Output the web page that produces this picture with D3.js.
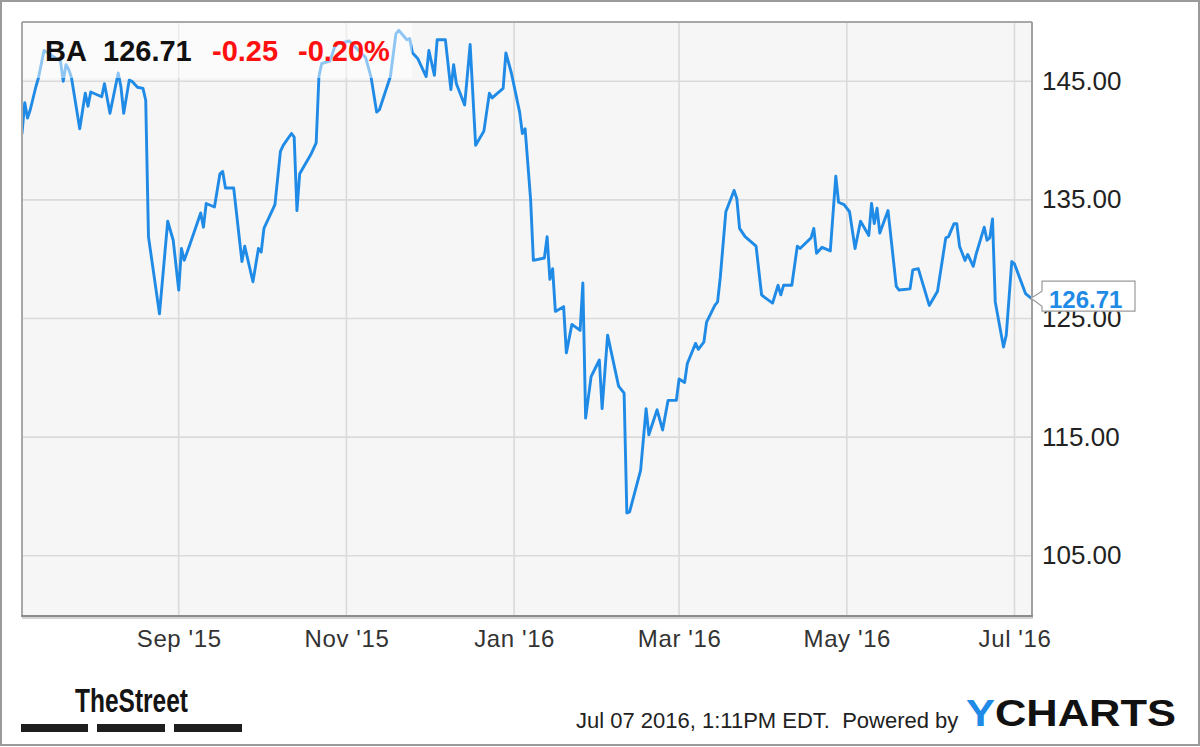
<!DOCTYPE html>
<html><head><meta charset="utf-8">
<script src="https://cdn.jsdelivr.net/npm/d3@7/dist/d3.min.js"></script>
<style>
body{margin:0;background:#fff;}
svg{display:block;font-family:"Liberation Sans",Arial,Helvetica,sans-serif;}
</style>
</head><body>
<svg id="chart" width="1200" height="747"></svg>
<script>
// ---- data ----
const dates = [
"2015-07-06","2015-07-07","2015-07-08","2015-07-09","2015-07-11","2015-07-12","2015-07-14","2015-07-20","2015-07-21","2015-07-22",
"2015-07-23","2015-07-24","2015-07-27","2015-07-29","2015-07-30","2015-07-31","2015-08-04","2015-08-05","2015-08-07","2015-08-10",
"2015-08-11","2015-08-12","2015-08-14","2015-08-15","2015-08-17","2015-08-19","2015-08-20","2015-08-21","2015-08-25","2015-08-28",
"2015-08-30","2015-09-01","2015-09-02","2015-09-03","2015-09-05","2015-09-09","2015-09-10","2015-09-11","2015-09-14","2015-09-16",
"2015-09-17","2015-09-18","2015-09-21","2015-09-24","2015-09-25","2015-09-28","2015-09-30","2015-10-01","2015-10-02","2015-10-06",
"2015-10-08","2015-10-09","2015-10-12","2015-10-13","2015-10-14","2015-10-15","2015-10-19","2015-10-21","2015-10-22","2015-10-23",
"2015-10-26","2015-10-28","2015-11-02","2015-11-08","2015-11-10","2015-11-12","2015-11-13","2015-11-17","2015-11-19","2015-11-20",
"2015-11-23","2015-11-24","2015-11-25","2015-11-27","2015-11-30","2015-12-01","2015-12-03","2015-12-04","2015-12-07","2015-12-09",
"2015-12-10","2015-12-11","2015-12-14","2015-12-16","2015-12-18","2015-12-21","2015-12-23","2015-12-24","2015-12-28","2015-12-29",
"2015-12-31","2016-01-03","2016-01-04","2016-01-05","2016-01-07","2016-01-08","2016-01-12","2016-01-13","2016-01-14","2016-01-15",
"2016-01-16","2016-01-19","2016-01-20","2016-01-22","2016-01-25","2016-01-26","2016-01-27","2016-01-29","2016-02-01","2016-02-02",
"2016-02-04","2016-02-08","2016-02-10","2016-02-11","2016-02-12","2016-02-16","2016-02-18","2016-02-19","2016-02-22","2016-02-24",
"2016-02-26","2016-02-29","2016-03-01","2016-03-03","2016-03-04","2016-03-07","2016-03-08","2016-03-10","2016-03-11","2016-03-14",
"2016-03-15","2016-03-16","2016-03-18","2016-03-21","2016-03-22","2016-03-23","2016-03-25","2016-03-29","2016-03-31","2016-04-01",
"2016-04-04","2016-04-06","2016-04-07","2016-04-08","2016-04-11","2016-04-13","2016-04-14","2016-04-18","2016-04-19","2016-04-20",
"2016-04-22","2016-04-25","2016-04-27","2016-04-28","2016-04-30","2016-05-02","2016-05-04","2016-05-06","2016-05-09","2016-05-10",
"2016-05-11","2016-05-12","2016-05-13","2016-05-16","2016-05-19","2016-05-20","2016-05-24","2016-05-25","2016-05-27","2016-05-31",
"2016-06-03","2016-06-06","2016-06-07","2016-06-09","2016-06-10","2016-06-11","2016-06-13","2016-06-14","2016-06-16","2016-06-17",
"2016-06-20","2016-06-21","2016-06-22","2016-06-23","2016-06-24","2016-06-27","2016-06-28","2016-06-30","2016-07-01","2016-07-05",
"2016-07-07"
];
const prices = [
140.6,143.2,141.9,142.6,144.5,145.3,147.6,146.7,145.0,146.4,
146.0,145.3,141.0,144.0,142.9,144.1,143.7,144.8,142.3,145.7,
144.5,142.3,145.1,145.0,144.5,144.4,143.4,131.9,125.4,133.2,
131.6,127.4,130.9,129.9,131.2,133.9,132.7,134.7,134.4,137.2,
137.4,136.0,136.0,129.8,131.1,128.1,130.9,130.6,132.6,134.6,
139.1,139.6,140.6,140.3,134.1,137.2,138.8,139.8,145.4,146.5,
146.7,148.1,148.4,147.0,145.3,142.4,142.6,145.4,149.0,149.3,
148.5,148.6,147.4,146.9,145.4,147.6,145.5,148.5,148.5,144.3,
146.4,144.8,143.0,148.1,139.6,140.8,144.0,143.6,144.4,147.4,
145.7,142.4,140.6,141.0,135.0,129.9,130.1,131.9,128.3,129.2,
125.6,126.0,122.1,124.5,124.0,128.0,116.6,120.1,121.5,117.4,
123.6,119.3,118.7,108.6,108.7,112.2,117.4,115.2,117.3,115.6,
118.1,118.1,119.9,119.6,121.2,122.9,122.4,123.0,124.7,126.1,
126.4,128.5,134.0,135.8,135.1,132.6,131.9,131.1,127.0,126.8,
126.3,127.8,127.0,127.8,127.8,131.1,130.9,131.8,132.6,130.5,
131.0,130.7,137.0,134.8,134.6,134.0,130.9,133.2,132.0,134.7,
133.0,134.3,132.2,134.1,127.7,127.4,127.5,129.1,129.2,126.1,
127.3,131.8,131.9,133.0,133.0,131.1,129.9,130.4,129.4,130.4,
132.7,131.6,131.8,133.4,126.4,122.6,123.6,129.8,129.6,127.1,
126.71
];
const xTickDates = ["2015-09-01","2015-11-01","2016-01-01","2016-03-01","2016-05-01","2016-07-01"];
const xTickLabels = ["Sep '15","Nov '15","Jan '16","Mar '16","May '16","Jul '16"];
const yTickValues = [105, 115, 125, 135, 145];
const yDomain = [100, 150];
const headerTicker = "BA";
const headerPrice = "126.71";
const headerChange = "-0.25";
const headerPct = "-0.20%";
const lastLabel = "126.71";
const footerText = "Jul 07 2016, 1:11PM EDT.  Powered by";
const brandLeft = "TheStreet";
const brandRightA = "Y";
const brandRightB = "CHARTS";

// ---- drawing ----
const parse = d3.timeParse("%Y-%m-%d");
const data = dates.map((d, i) => ({date: parse(d), v: prices[i]}));

const W = 1200, H = 747;
const plot = {l: 22, t: 22, r: 1032, b: 616};
const svg = d3.select("#chart");

// outer frame
svg.append("rect").attr("x", 1).attr("y", 1).attr("width", W - 2).attr("height", H - 3)
  .attr("fill", "#fff").attr("stroke", "#9a9a9a").attr("stroke-width", 2);

// plot background
svg.append("rect").attr("x", plot.l).attr("y", plot.t)
  .attr("width", plot.r - plot.l).attr("height", plot.b - plot.t)
  .attr("fill", "#f6f6f6");

const x = d3.scaleTime().domain(d3.extent(data, d => d.date)).range([plot.l, 1031]);
const y = d3.scaleLinear().domain(yDomain).range([615, plot.t]);

// grid lines
const grid = svg.append("g");
grid.selectAll("line.v").data(xTickDates.map(parse)).join("line")
  .attr("x1", d => x(d)).attr("x2", d => x(d))
  .attr("y1", plot.t).attr("y2", plot.b)
  .attr("stroke", "#dadada").attr("stroke-width", 1.6);
grid.selectAll("line.h").data(yTickValues).join("line")
  .attr("x1", plot.l).attr("x2", plot.r)
  .attr("y1", d => y(d)).attr("y2", d => y(d))
  .attr("stroke", "#dadada").attr("stroke-width", 1.6);

// line
svg.append("clipPath").attr("id", "clip").append("rect")
  .attr("x", plot.l).attr("y", plot.t).attr("width", plot.r - plot.l).attr("height", plot.b - plot.t);
svg.append("path").datum(data)
  .attr("clip-path", "url(#clip)")
  .attr("fill", "none").attr("stroke", "#1f8be6").attr("stroke-width", 2.9)
  .attr("stroke-linejoin", "round").attr("stroke-linecap", "round")
  .attr("d", d3.line().x(d => x(d.date)).y(d => y(d.v)));

// header veil
svg.append("rect").attr("x", plot.l).attr("y", plot.t).attr("width", 390).attr("height", 56)
  .attr("fill", "#fff").attr("opacity", 0.5);

// plot frame
svg.append("line").attr("x1", plot.l).attr("x2", plot.r).attr("y1", plot.t).attr("y2", plot.t)
  .attr("stroke", "#a8a8a8").attr("stroke-width", 2);
svg.append("line").attr("x1", plot.l).attr("x2", plot.l).attr("y1", plot.t).attr("y2", plot.b)
  .attr("stroke", "#a8a8a8").attr("stroke-width", 2);
svg.append("line").attr("x1", plot.r).attr("x2", plot.r).attr("y1", plot.t).attr("y2", plot.b)
  .attr("stroke", "#a0a0a0").attr("stroke-width", 2);
svg.append("line").attr("x1", plot.l).attr("x2", plot.r + 1).attr("y1", plot.b + 2).attr("y2", plot.b + 2)
  .attr("stroke", "#d4d4d4").attr("stroke-width", 2);
svg.append("line").attr("x1", plot.l - 1).attr("x2", plot.r + 1).attr("y1", plot.b).attr("y2", plot.b)
  .attr("stroke", "#8c8c8c").attr("stroke-width", 2);

// x axis
const xAxis = d3.axisBottom(x)
  .tickValues(xTickDates.map(parse))
  .tickFormat((d, i) => xTickLabels[i])
  .tickSize(0).tickPadding(0);
const gx = svg.append("g").attr("transform", `translate(0,${plot.b})`).call(xAxis);
gx.select(".domain").remove();
gx.selectAll("text").attr("dy", null).attr("y", 31)
  .attr("font-size", 24).attr("fill", "#333").attr("letter-spacing", 0.6)
  .attr("font-family", "'Liberation Sans',Arial,sans-serif");

// y axis (right)
const yAxis = d3.axisRight(y).tickValues(yTickValues).tickFormat(d3.format(".2f"))
  .tickSize(0).tickPadding(10);
const gy = svg.append("g").attr("transform", `translate(${plot.r},0)`).call(yAxis);
gy.select(".domain").remove();
gy.selectAll("text").attr("dy", null).attr("y", 8)
  .attr("font-size", 26).attr("fill", "#222")
  .attr("font-family", "'Liberation Sans',Arial,sans-serif");

// header text
const hdr = svg.append("g").attr("font-weight", "bold").attr("font-size", 29);
hdr.append("text").attr("x", 45).attr("y", 61).attr("fill", "#111").text(headerTicker);
hdr.append("text").attr("x", 103).attr("y", 61).attr("fill", "#111").text(headerPrice);
hdr.append("text").attr("x", 212).attr("y", 61).attr("fill", "#ff1010").text(headerChange);
hdr.append("text").attr("x", 298).attr("y", 61).attr("fill", "#ff1010").text(headerPct);

// last value tag
const last = data[data.length - 1];
const tx = x(last.date), ty = y(last.v);
const bl = tx + 11, br = 1135, bt = ty - 17, bb = ty + 13;
svg.append("path")
  .attr("d", `M${tx},${ty} L${bl},${ty - 7} L${bl},${bt} L${br},${bt} L${br},${bb} L${bl},${bb} L${bl},${ty + 8} Z`)
  .attr("fill", "#fff").attr("stroke", "#9a9a9a").attr("stroke-width", 1.2);
svg.append("text").attr("x", bl + 7).attr("y", ty + 9.5)
  .attr("font-size", 24).attr("font-weight", "bold").attr("fill", "#1f8be6").text(lastLabel);

// footer
svg.append("text").attr("x", 576).attr("y", 728).attr("font-size", 22).attr("fill", "#222")
  .attr("xml:space", "preserve").style("white-space", "pre").text(footerText);
const yc = svg.append("text").attr("x", 966).attr("y", 726).attr("font-size", 36).attr("font-weight", "bold")
  .attr("textLength", 210).attr("lengthAdjust", "spacingAndGlyphs");
yc.append("tspan").attr("fill", "#1f8be6").text(brandRightA);
yc.append("tspan").attr("fill", "#111").text(brandRightB);

// TheStreet logo
svg.append("text").attr("x", 75).attr("y", 712).attr("font-size", 33).attr("font-weight", "bold")
  .attr("font-family", "'Liberation Sans Narrow','Liberation Sans',Arial,sans-serif")
  .attr("fill", "#141414").attr("textLength", 113).attr("lengthAdjust", "spacingAndGlyphs")
  .text(brandLeft);
[[21, 88], [97, 165], [174, 242]].forEach(([a, b]) => {
  svg.append("rect").attr("x", a).attr("y", 724).attr("width", b - a).attr("height", 8).attr("fill", "#1e1e1e");
});
</script>
</body></html>
